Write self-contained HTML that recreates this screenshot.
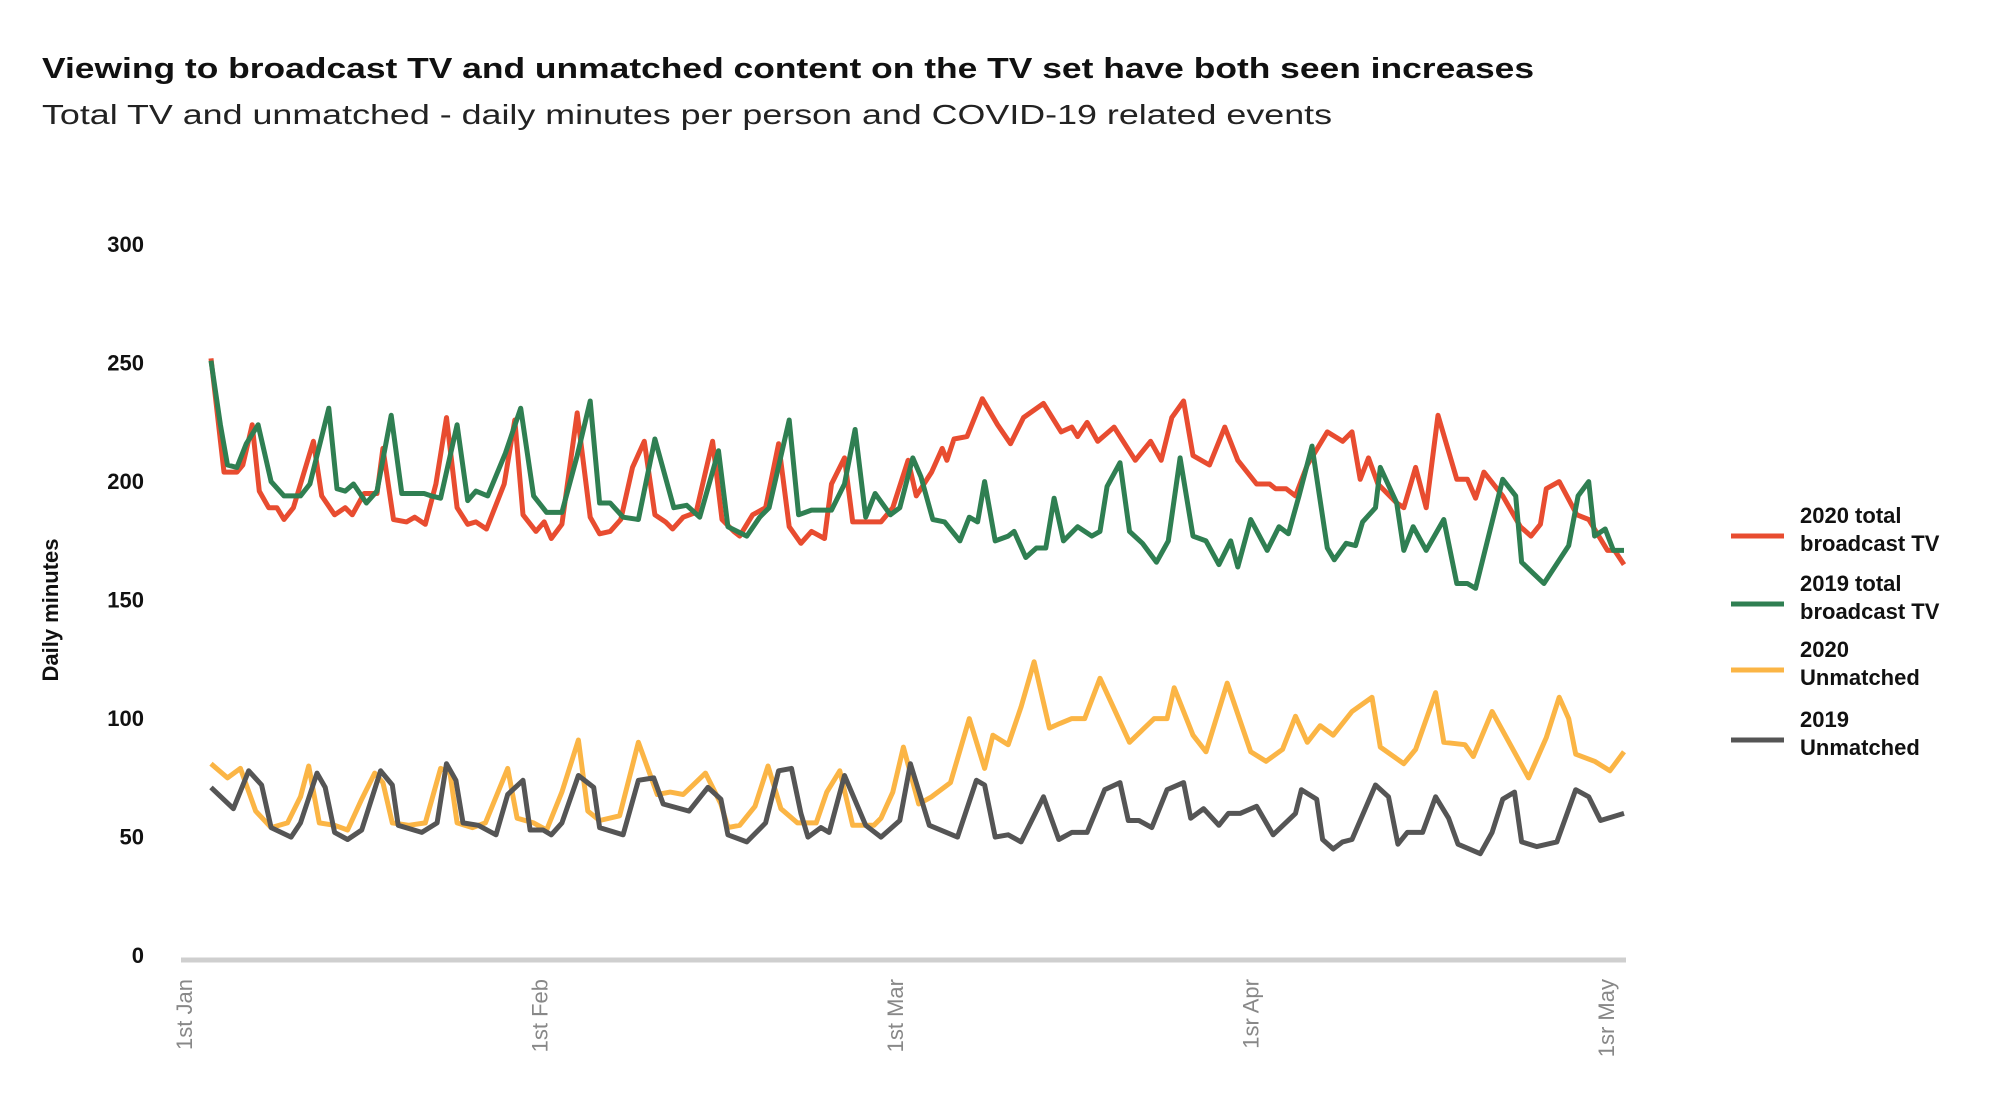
<!DOCTYPE html>
<html><head><meta charset="utf-8"><style>
html,body{margin:0;padding:0;background:#fff;}
svg{display:block;font-family:"Liberation Sans",sans-serif;}
</style></head><body>
<svg id="chart" width="2000" height="1119" viewBox="0 0 2000 1119" xmlns="http://www.w3.org/2000/svg">
<text x="42" y="78" font-size="29" font-weight="bold" fill="#111" textLength="1492" lengthAdjust="spacingAndGlyphs">Viewing to broadcast TV and unmatched content on the TV set have both seen increases</text>
<text x="42" y="124" font-size="28" fill="#222" textLength="1290" lengthAdjust="spacingAndGlyphs">Total TV and unmatched - daily minutes per person and COVID-19 related events</text>
<text transform="translate(58,610) rotate(-90)" text-anchor="middle" font-size="22" font-weight="bold" fill="#111">Daily minutes</text>
<g id="yticks"></g><g id="xticks"></g>
<line x1="181" y1="960" x2="1626" y2="960" stroke="#cfcfcf" stroke-width="5"/>
<g id="series"></g>
<g id="legend"></g>
</svg>
<script>
const yTicks=[0,50,100,150,200,250,300];
const monthLabels=["1st Jan","1st Feb","1st Mar","1sr Apr","1sr May"];
const seriesNames=["2020 total broadcast TV","2019 total broadcast TV","2020 Unmatched","2019 Unmatched"];
const redDays=[0,1.1,2.2,2.7,3.5,4.1,4.9,5.6,6.2,7.0,8.7,9.4,10.5,11.4,12.0,13.0,14.1,14.6,15.5,16.6,17.3,18.2,19.1,20.0,20.9,21.8,22.5,23.4,24.9,25.8,26.5,27.6,28.3,28.9,29.8,31.1,32.2,33.0,33.9,34.8,35.8,36.8,37.7,38.6,39.2,40.1,41.2,42.6,43.4,44.4,44.9,46.0,47.1,48.2,49.1,50.1,51.0,52.1,52.7,53.8,54.5,55.8,56.9,57.9,59.2,59.9,61.2,62.1,62.5,63.1,64.2,65.5,66.8,67.9,69.0,70.7,72.2,73.1,73.6,74.4,75.3,76.7,78.5,79.8,80.7,81.6,82.6,83.4,84.8,86.1,87.2,88.8,89.9,90.4,91.3,92.1,93.1,94.8,96.1,96.9,97.6,98.3,99.1,100.7,101.3,102.3,103.2,104.2,105.8,106.7,107.4,108.1,109.7,111.2,112.1,112.9,113.4,114.5,116.0,117.0,118.6,119.2,120.0];
const redVals=[253,205,205,208,225,197,190,190,185,190,218,195,187,190,187,196,196,215,185,184,186,183,200,228,190,183,184,181,200,227,187,180,184,177,183,230,186,179,180,185,207,218,187,184,181,186,188,218,185,180,178,187,190,217,182,175,180,177,200,211,184,184,184,190,210,195,205,215,210,219,220,236,225,217,228,234,222,224,220,226,218,224,210,218,210,228,235,212,208,224,210,200,200,198,198,195,208,222,218,222,202,211,200,192,190,207,190,229,202,202,194,205,195,182,178,183,198,201,187,185,172,172,166];
const greenDays=[0,0.8,1.4,2.2,3.0,4.0,5.1,6.2,7.6,8.4,10.0,10.7,11.4,12.1,13.2,14.1,15.3,16.2,18.1,18.7,19.5,20.9,21.8,22.5,23.5,25.0,26.3,27.4,28.5,29.8,31.1,32.2,33.0,33.9,35.0,36.3,37.7,39.3,40.4,41.5,43.1,43.9,45.5,46.6,47.4,49.1,49.9,51.0,52.7,53.8,54.7,55.6,56.4,57.7,58.5,59.6,60.3,61.3,62.3,63.6,64.4,65.1,65.7,66.6,67.7,68.2,69.2,70.1,70.9,71.6,72.4,73.6,74.8,75.5,76.1,77.2,78.0,79.1,80.3,81.3,82.3,83.4,84.5,85.6,86.6,87.2,88.3,89.7,90.7,91.5,92.4,93.5,94.8,95.4,96.4,97.2,97.8,98.9,99.3,100.7,101.3,102.1,103.2,104.7,105.8,106.7,107.4,109.7,110.8,111.3,113.2,115.3,116.1,117.0,117.5,118.4,119.1,120.0];
const greenVals=[252,225,208,207,217,225,201,195,195,200,232,198,197,200,192,197,229,196,196,195,194,225,193,197,195,213,232,195,188,188,212,235,192,192,186,185,219,190,191,186,214,182,178,186,190,227,187,189,189,200,223,186,196,187,190,211,203,185,184,176,186,184,201,176,178,180,169,173,173,194,176,182,178,180,199,209,180,175,167,176,211,178,176,166,176,165,185,172,182,179,195,216,173,168,175,174,184,190,207,192,172,182,172,185,158,158,156,202,195,167,158,174,195,201,178,181,172,172];
const yellowDays=[0,1.4,2.5,3.8,5.1,6.5,7.6,8.3,9.2,10.5,11.6,12.8,13.9,14.6,15.4,16.8,18.2,19.5,20.3,20.9,22.2,23.3,25.2,26.0,27.4,28.5,29.8,31.2,32.0,33.0,34.7,36.3,37.9,39.0,40.1,42.0,43.3,43.9,44.9,46.2,47.3,48.4,49.8,51.4,52.3,53.4,54.5,56.3,56.9,57.9,58.8,60.1,61.2,62.8,64.4,65.7,66.4,67.7,68.8,69.9,71.2,72.1,73.1,74.2,75.5,78.0,80.1,81.2,81.8,83.4,84.5,86.3,88.3,89.6,91.0,92.1,93.1,94.2,95.3,96.9,98.6,99.3,101.3,102.3,104.0,104.7,106.5,107.2,108.8,111.9,113.4,114.5,115.3,115.9,117.5,118.8,120.0];
const yellowVals=[82,76,80,62,55,57,68,81,57,56,54,67,78,74,57,56,57,80,78,57,55,57,80,59,57,54,70,92,62,58,60,91,69,70,69,78,65,55,56,64,81,63,57,57,70,79,56,56,59,70,89,65,68,74,101,80,94,90,106,125,97,99,101,101,118,91,101,101,114,94,87,116,87,83,88,102,91,98,94,104,110,89,82,88,112,91,90,85,104,76,93,110,101,86,83,79,87];
const grayDays=[0,1.9,3.2,4.3,5.1,6.8,7.6,9.0,9.7,10.5,11.6,12.8,14.4,15.4,15.9,17.9,19.2,20.0,20.8,21.4,22.7,24.2,25.2,26.5,27.1,28.2,28.9,29.8,31.2,32.5,33.0,35.0,36.3,37.6,38.4,40.6,42.2,43.3,43.9,45.5,47.1,48.2,49.3,50.1,50.7,51.8,52.5,53.8,55.6,56.9,58.5,59.4,61.0,63.4,65.0,65.7,66.6,67.7,68.8,70.7,72.0,73.1,74.4,75.9,77.2,77.9,78.8,79.9,81.2,82.6,83.2,84.3,85.6,86.4,87.4,88.8,90.2,92.1,92.6,93.9,94.4,95.3,96.1,96.9,98.9,100.0,100.8,101.6,102.9,104.0,105.1,105.9,107.8,108.8,109.7,110.7,111.3,112.6,114.3,115.9,117.0,118.0,120.0];
const grayVals=[72,63,79,73,55,51,57,78,72,53,50,54,79,73,56,53,57,82,75,57,56,52,69,75,54,54,52,57,77,72,55,52,75,76,65,62,72,67,52,49,57,79,80,61,51,55,53,77,56,51,58,82,56,51,75,73,51,52,49,68,50,53,53,71,74,58,58,55,71,74,59,63,56,61,61,64,52,61,71,67,50,46,49,50,73,68,48,53,53,68,59,48,44,53,67,70,49,47,49,71,68,58,61];
const colors=["#e84c30","#2f7f52","#fbb545","#555555"];

const NS="http://www.w3.org/2000/svg";
const X0=211,X1=1624,D_MAX=120,Y0=958,Y300=247;
function xs(d){return X0+(X1-X0)*d/D_MAX;}
function ys(v){return Y0-(Y0-Y300)*v/300;}
function mk(tag,attrs,parent){const e=document.createElementNS(NS,tag);for(const k in attrs)e.setAttribute(k,attrs[k]);parent.appendChild(e);return e;}

const yg=document.getElementById('yticks');
yTicks.forEach(v=>{
  const t=mk('text',{x:144,y:ys(v)+5,'text-anchor':'end','font-size':22,'font-weight':'bold',fill:'#111'},yg);
  
  
  t.textContent=v;
});
const xg=document.getElementById('xticks');
monthLabels.forEach((m,i)=>{
  const cx=184+i*355.5;
  const t=mk('text',{transform:`translate(${cx+8},979) rotate(-90)`,'text-anchor':'end','font-size':22,fill:'#888'},xg);
  
  
  t.textContent=m;
});
const sg=document.getElementById('series');
const all=[[redDays,redVals],[greenDays,greenVals],[yellowDays,yellowVals],[grayDays,grayVals]];
const order=[2,3,0,1];
order.forEach(si=>{
  const [ds,vs]=all[si];
  const pts=ds.map((d,i)=>xs(d).toFixed(1)+','+ys(vs[i]).toFixed(1)).join(' ');
  const p=mk('polyline',{points:pts,fill:'none',stroke:colors[si],'stroke-width':5,'stroke-linejoin':'round'},sg);
  
  
});
const lg=document.getElementById('legend');
const legendY=[536,604,670,740];
const legendLines=[["2020 total","broadcast TV"],["2019 total","broadcast TV"],["2020","Unmatched"],["2019","Unmatched"]];
seriesNames.forEach((n,i)=>{
  const g=mk('g',{},lg);
  
  
  mk('line',{x1:1731,x2:1784,y1:legendY[i],y2:legendY[i],stroke:colors[i],'stroke-width':5},g);
  const t=mk('text',{x:1800,y:legendY[i]-13,'font-size':22,'font-weight':'bold',fill:'#111'},g);
  t.textContent=legendLines[i][0];
  const t2=mk('text',{x:1800,y:legendY[i]+15,'font-size':22,'font-weight':'bold',fill:'#111'},g);
  t2.textContent=legendLines[i][1];
});
</script>
</body></html>
